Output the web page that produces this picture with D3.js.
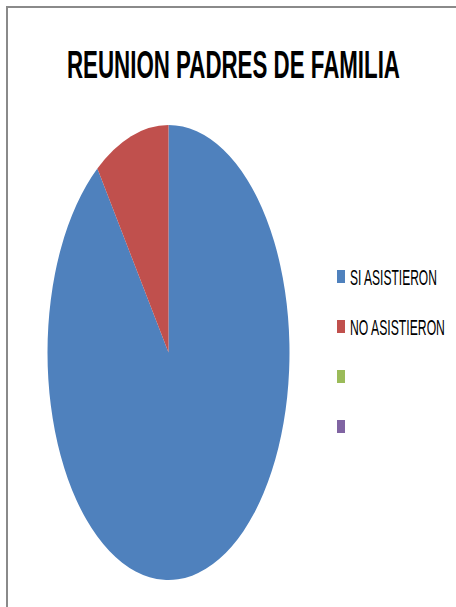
<!DOCTYPE html>
<html>
<head>
<meta charset="utf-8">
<script src="https://cdn.jsdelivr.net/npm/d3@7"></script>
<style>
  body { margin: 0; background: #fff; }
  svg { display: block; }
</style>
</head>
<body>
<svg id="chart"></svg>
<script>
var width = 456;
var height = 607;

var title = 'REUNION PADRES DE FAMILIA';
var categories = ['SI ASISTIERON', 'NO ASISTIERON', '', ''];
var values = [90, 10, 0, 0];
var colors = ['#4F81BD', '#C0504D', '#9BBB59', '#8064A2'];

var data = categories.map((c, i) => ({ name: c, value: values[i], color: colors[i] }));

var svg = d3.select('#chart')
    .attr('width', width)
    .attr('height', height);

// frame (only top and left edges visible)
svg.append('line')
    .attr('x1', 6.5).attr('y1', 7).attr('x2', width).attr('y2', 7)
    .attr('stroke', '#8a8a8a').attr('stroke-width', 2);
svg.append('line')
    .attr('x1', 7).attr('y1', 6).attr('x2', 7).attr('y2', height)
    .attr('stroke', '#8a8a8a').attr('stroke-width', 2);

// squeeze a text horizontally so it spans a given width
function fitWidth(sel, x, y, w) {
  sel.each(function () {
    var len = this.getComputedTextLength();
    d3.select(this).attr('transform',
      'translate(' + x + ',' + y + ') scale(' + (w / len) + ',1)');
  });
}

svg.append('text')
    .style('font-family', 'Liberation Sans, Arial, sans-serif')
    .style('font-weight', 'bold')
    .style('font-size', '39px')
    .attr('fill', '#000')
    .text(title)
    .call(fitWidth, 67, 78, 333);

// pie drawn as circle then stretched into an ellipse
var cx = 168.5, cy = 352.5, rx = 121, ry = 227.5;

var pie = d3.pie()
    .sort(null)
    .value(d => d.value);

var arc = d3.arc()
    .innerRadius(0)
    .outerRadius(100);

svg.append('g')
    .attr('transform', 'translate(' + cx + ',' + cy + ') scale(' + (rx / 100) + ',' + (ry / 100) + ')')
  .selectAll('path')
  .data(pie(data).filter(d => d.data.value > 0))
  .enter()
  .append('path')
    .attr('d', arc)
    .attr('fill', d => d.data.color);

// legend
var legendY = d3.scalePoint()
    .domain(d3.range(categories.length))
    .range([270, 420]);

var legend = svg.selectAll('.legend')
    .data(data)
    .enter()
    .append('g')
    .classed('legend', true)
    .attr('transform', (d, i) => 'translate(337,' + legendY(i) + ')');

legend.append('rect')
    .attr('width', 8)
    .attr('height', 13)
    .attr('fill', d => d.color);

legend.filter(d => d.name !== '')
  .append('text')
    .style('font-family', 'Liberation Sans, Arial, sans-serif')
    .style('font-size', '22px')
    .attr('fill', '#000')
    .text(d => d.name)
    .each(function (d) {
      d3.select(this).call(fitWidth, 13, 15, d.name === 'SI ASISTIERON' ? 87 : 95);
    });
</script>
</body>
</html>
